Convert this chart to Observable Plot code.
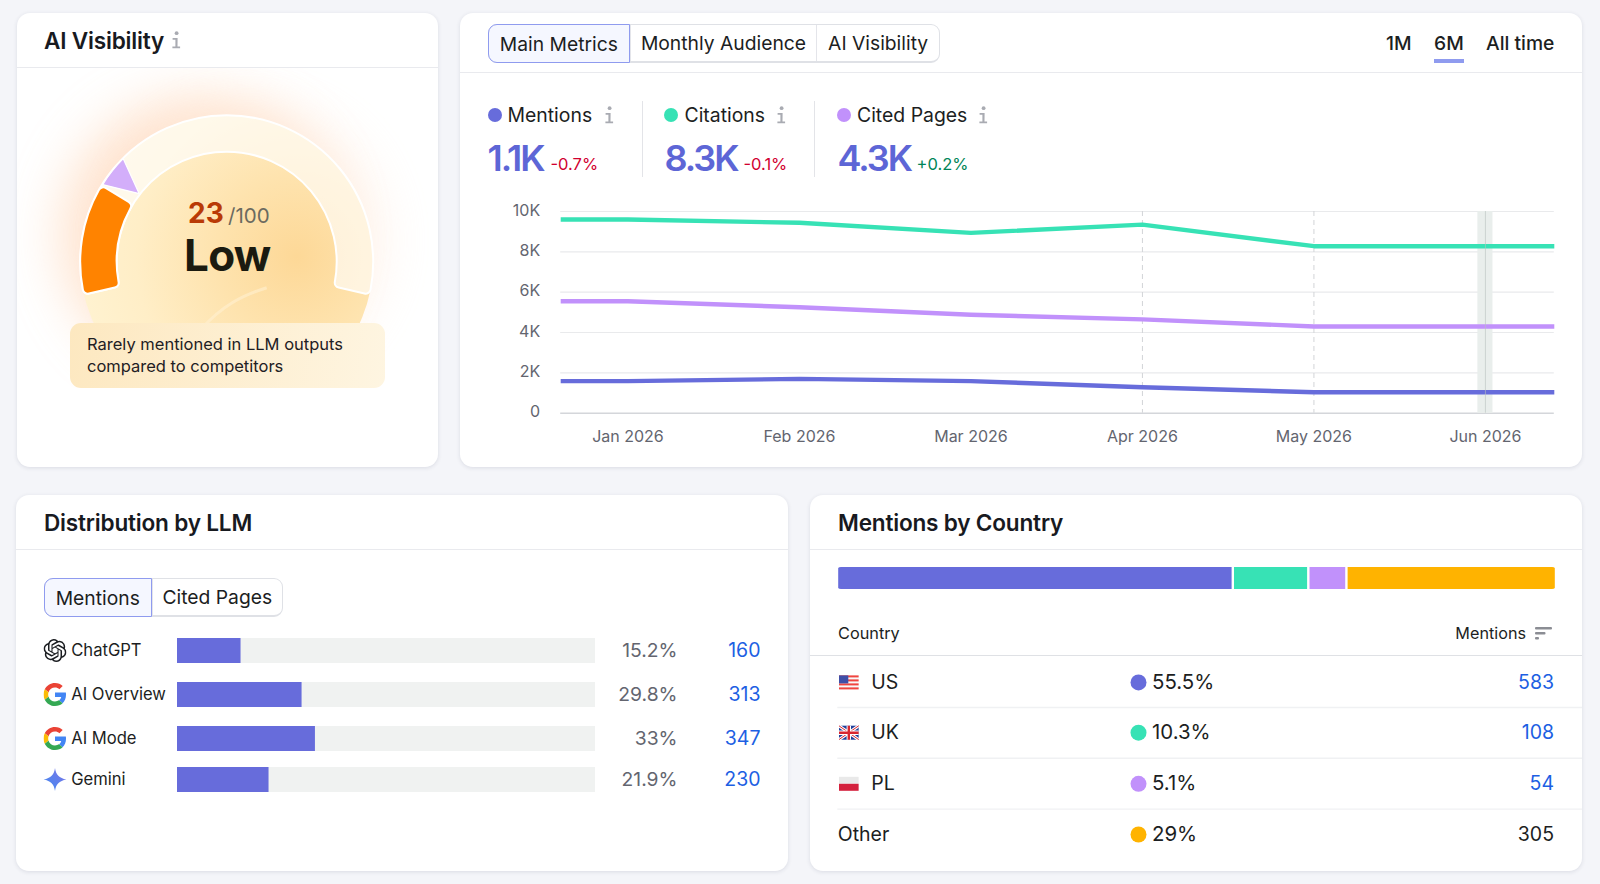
<!DOCTYPE html>
<html><head><meta charset="utf-8">
<script src="https://cdn.jsdelivr.net/npm/d3@7"></script>
<script src="https://cdn.jsdelivr.net/npm/@observablehq/plot@0.6"></script>
<style>
html,body{margin:0;padding:0;background:#f4f5f9;width:1600px;height:884px;overflow:hidden;font-family:Inter,sans-serif;color:#1c1e22}
.card{position:absolute;background:#fff;border-radius:13px;box-shadow:0 1px 4px rgba(30,40,70,.12)}
.hr{position:absolute;height:1px;background:#e9eaee}
.t{position:absolute;white-space:nowrap;line-height:1;transform:translateY(-50%)}
.r{transform:translate(-100%,-50%)}
.seg{position:absolute;display:flex;box-sizing:border-box;height:39px;border:1px solid #dfe1e6;border-bottom-width:2px;border-radius:9px;background:#fff;font-size:19.3px;overflow:visible}
.seg div{box-sizing:border-box;display:flex;align-items:center;justify-content:center;height:100%;border-left:1px solid #e4e5ea}
.seg div:first-child{border-left:0}
.seg div.on{background:#f5f7ff;border:1px solid #8f9bef;border-radius:9px 0 0 9px;margin:-1px 0 -2px -1px;height:39px}
.abs{position:absolute}
svg{display:block}
</style></head><body>
<script>
// ---------- data ----------
const months = ["Jan 2026","Feb 2026","Mar 2026","Apr 2026","May 2026","Jun 2026"];
const mentions = [1590,1700,1590,1290,1040,1040];
const citations = [9600,9440,8940,9350,8280,8280];
const citedPages = [5550,5250,4880,4650,4300,4300];
const yTicks = [0,2000,4000,6000,8000,10000];
const dashedMonths = [3,4];
const bandMonth = 5;
const metricNames = ["Mentions","Citations","Cited Pages"];
const metricValues = ["1.1K","8.3K","4.3K"];
const metricDeltas = ["-0.7%","-0.1%","+0.2%"];
const llmNames = ["ChatGPT","AI Overview","AI Mode","Gemini"];
const llmShares = [15.2,29.8,33,21.9];
const llmCounts = [160,313,347,230];
const countryNames = ["US","UK","PL","Other"];
const countryPct = [55.5,10.3,5.1,29];
const countryCounts = [583,108,54,305];
const barShares = [55.05,10.5,5.3,29.15];
const score = 23;
const scoreMax = 100;

const C = {blue:"#676cdb",green:"#37e2b5",purple:"#c191fb",orange:"#ffb300"};
const countryColors = [C.blue,C.green,C.purple,C.orange];
const seriesColors = [C.blue,C.green,C.purple];

// ---------- html helpers ----------
function el(cls,css,html,parent=document.body){const d=document.createElement("div");d.className=cls;d.style.cssText=css;if(html!=null)d.innerHTML=html;parent.appendChild(d);return d;}
function text(x,y,s,css="",right=false){return el("t"+(right?" r":""),`left:${x}px;top:${y}px;${css}`,s);}
const infoIcon=(x,y)=>el("abs",`left:${x-6}px;top:${y-10}px;width:12px;height:20px`,`<svg width="12" height="20" viewBox="0 0 12 20"><circle cx="6.6" cy="3.2" r="1.9" fill="#a9abb2"/><path d="M2.6 8h5l-.1 8.6h2.6v1.7H2.4v-1.7h3V9.7H2.6z" fill="#a9abb2"/></svg>`);
function segControl(x,y,items){
  const s=el("seg",`left:${x}px;top:${y}px;width:${items.reduce((a,b)=>a+b[1],0)}px`);
  items.forEach((it,i)=>{el(i==0?"on":"",`width:${it[1]}px`,it[0],s);});
  return s;
}
function mount(svg,x,y){svg.style.position="absolute";svg.style.left=x+"px";svg.style.top=y+"px";svg.style.background="transparent";document.body.appendChild(svg);}
const uri=s=>"data:image/svg+xml;utf8,"+encodeURIComponent(s);

// ---------- cards ----------
el("card","left:17px;top:13px;width:421px;height:454px");
el("card","left:460px;top:13px;width:1122px;height:454px");
el("card","left:16px;top:495px;width:772px;height:376px");
el("card","left:810px;top:495px;width:772px;height:376px");
el("hr","left:17px;top:67px;width:421px");
el("hr","left:460px;top:72px;width:1122px");
el("hr","left:16px;top:549px;width:772px");
el("hr","left:810px;top:549px;width:772px");

const h2="font-size:22.6px;font-weight:600;letter-spacing:-.2px;color:#181a1f";
text(44,41,"AI Visibility",h2);
infoIcon(176,40);
text(44,523,"Distribution by LLM",h2);
text(838,523,"Mentions by Country",h2);

// ---------- gauge ----------
const gauge = Plot.plot({
  width:421,height:320,margin:0,
  style:{overflow:"hidden",background:"transparent"},
  x:{domain:[0,scoreMax],range:[-103,103],axis:null},
  y:{domain:[0,1],range:[320,0],axis:null},
  marks:[
    Plot.ruleY([],{y:d=>d}),
    (index,scales)=>{
      const cx=209.7, cy=193.7, R=146.5, r=110;
      const ang=a=>a*Math.PI/180;
      const x=scales.x||(v=>-103+v*2.06);
      const g=d3.create("svg:g");
      const defs=g.append("defs");
      defs.append("filter").attr("id","gb").attr("x","-60%").attr("y","-60%").attr("width","220%").attr("height","220%")
        .append("feGaussianBlur").attr("stdDeviation",26);
      const rg=defs.append("radialGradient").attr("id","disc").attr("gradientUnits","userSpaceOnUse")
        .attr("cx",cx+70).attr("cy",cy-5).attr("r",230);
      [[0,"#fdd897"],[.35,"#fee3ae"],[.7,"#ffeec7"],[1,"#fff3d2"]].forEach(s=>rg.append("stop").attr("offset",s[0]).attr("stop-color",s[1]));
      defs.append("clipPath").attr("id","dc").append("rect").attr("x",0).attr("y",0).attr("width",421).attr("height",262);
      g.append("circle").attr("cx",cx-28).attr("cy",cy-26).attr("r",R-8).attr("fill","#ffd0ae").attr("opacity",.6).attr("filter","url(#gb)");
      g.append("circle").attr("cx",cx+22).attr("cy",cy-22).attr("r",R-14).attr("fill","#ffe3cf").attr("opacity",.4).attr("filter","url(#gb)");
      g.append("circle").attr("cx",cx).attr("cy",cy).attr("r",R).attr("fill","url(#disc)").attr("clip-path","url(#dc)");
      g.append("path").attr("d","M"+(cx-26)+" "+(cy+68)+"C"+(cx-5)+" "+(cy+44)+" "+(cx+15)+" "+(cy+34)+" "+(cx+40)+" "+(cy+26)).attr("fill","none").attr("stroke","#fff0d0").attr("stroke-width",3).attr("opacity",.6);
      const a=g.append("g").attr("transform",`translate(${cx},${cy})`);
      const arc=d3.arc().innerRadius(r).outerRadius(R).cornerRadius(5);
      a.append("path").attr("d",arc({startAngle:ang(x(0)),endAngle:ang(x(scoreMax))})).attr("fill","#fff").attr("fill-opacity",.62).attr("stroke","#fff").attr("stroke-width",2);
      a.append("path").attr("d",arc({startAngle:ang(x(0)),endAngle:ang(x(score)-3)})).attr("fill","#ff8300").attr("stroke","#fff").attr("stroke-width",2);
      const P=(rad,deg)=>[rad*Math.sin(ang(deg)),-rad*Math.cos(ang(deg))];
      const mid=x(score), a0=mid-2.5, a1=mid+10.5, tip=mid+3.5;
      const p0=P(R-.5,a0),p1=P(R-.5,a1),p2=P(r+1,tip);
      a.append("path").attr("d",`M${p0}A${R-.5} ${R-.5} 0 0 1 ${p1}L${p2}Z`).attr("fill","#d3aefa").attr("stroke","#fff").attr("stroke-width",1.2).attr("stroke-linejoin","round");
      return g.node();
    }
  ]
});
mount(gauge,17,68);
el("abs","left:70px;top:323px;width:315px;height:65px;border-radius:11px;background:linear-gradient(100deg,#fde8c0,#fef5e1)");
text(87,344,"Rarely mentioned in LLM outputs","font-size:16.5px;color:#1f2024");
text(87,366,"compared to competitors","font-size:16.5px;color:#1f2024");
text(188,213,String(score),"font-size:28px;font-weight:700;color:#b93a06");
text(228,216,"/"+scoreMax,"font-size:20.5px;color:#6b6a5f");
text(184,254.5,"Low","font-size:44px;font-weight:700;letter-spacing:-.7px;color:#1b1b10");

// ---------- top right header ----------
segControl(488,24,[["Main Metrics",142],["Monthly Audience",187],["AI Visibility",123]]);
text(1386,44,"1M","font-size:19.3px;font-weight:500");
text(1434,44,"6M","font-size:19.3px;font-weight:500");
text(1486,44,"All time","font-size:19.3px;font-weight:500");
el("abs","left:1434px;top:59px;width:30px;height:4px;background:#8f9bef");

// ---------- metric tiles ----------
const dotX=[494.5,671,844], labelX=[507.5,684.5,857], infoX=[609,781,983], valueX=[487.5,664.5,837.5], deltaX=[550.5,743.5,916.5];
metricNames.forEach((n,i)=>{
  el("abs",`left:${dotX[i]-7}px;top:108px;width:14px;height:14px;border-radius:50%;background:${seriesColors[i]}`);
  text(labelX[i],116,n,"font-size:19.4px");
  infoIcon(infoX[i],115);
  text(valueX[i],158,metricValues[i],"font-size:36px;font-weight:600;letter-spacing:-2px;color:#5d66d6");
  text(deltaX[i],164,metricDeltas[i],`font-size:16.5px;color:${metricDeltas[i][0]=="+"?"#008557":"#d1002f"}`);
});
el("abs","left:642px;top:101px;width:1px;height:76px;background:#e3e4e8");
el("abs","left:814px;top:101px;width:1px;height:76px;background:#e3e4e8");

// ---------- line chart ----------
const seriesLines=[["Mentions",mentions,C.blue],["Citations",citations,C.green],["Cited Pages",citedPages,C.purple]];
const edgeL=0.392, edgeR=0.4016;
const lineData=seriesLines.flatMap(([name,vals,color])=>[
  {name,color,x:-edgeL,v:vals[0]},
  ...vals.map((v,i)=>({name,color,x:i,v})),
  {name,color,x:months.length-1+edgeR,v:vals[vals.length-1]}
]);
const lineChart=Plot.plot({
  width:1122,height:260,marginLeft:100.2,marginRight:28.2,marginTop:11,marginBottom:47.3,
  style:{background:"transparent",fontFamily:"Inter,sans-serif"},
  x:{domain:[-edgeL,months.length-1+edgeR],axis:null},
  y:{domain:[0,10000],axis:null},
  color:{type:"identity"},
  marks:[
    Plot.ruleY(yTicks.slice(1),{stroke:"#e9eaec",strokeWidth:1.2}),
    Plot.ruleY([0],{stroke:"#d4d6da",strokeWidth:1.6}),
    Plot.rectY([bandMonth],{x1:d=>d-0.044,x2:d=>d+0.044,y1:0,y2:10000,fill:"#e9eeec"}),
    Plot.ruleX(dashedMonths,{stroke:"#d2d4d8",strokeDasharray:"5 4",strokeWidth:1}),
    Plot.line(lineData,{x:"x",y:"v",z:"name",stroke:"color",strokeWidth:4.4,curve:"linear",strokeLinecap:"butt",strokeLinejoin:"round"}),
    Plot.ruleX([bandMonth],{stroke:"#b9c2be",strokeOpacity:.6,strokeWidth:1}),
    Plot.axisY({ticks:yTicks,tickSize:0,tickPadding:20.5,dy:-1,label:null,fontSize:16,fontVariant:"normal",fill:"#63656f",tickFormat:d=>d?d/1000+"K":"0"}),
    Plot.axisX({ticks:d3.range(months.length),tickSize:0,tickPadding:17,label:null,fontSize:16,fontVariant:"normal",fill:"#63656f",tickFormat:i=>months[i]})
  ]
});
mount(lineChart,460,200);

// ---------- distribution by LLM ----------
segControl(44,578,[["Mentions",108],["Cited Pages",131]]);
const openai=`<svg xmlns="http://www.w3.org/2000/svg" viewBox="0 0 24 24"><path fill="#1c1e22" d="M22.2819 9.8211a5.9847 5.9847 0 0 0-.5157-4.9108 6.0462 6.0462 0 0 0-6.5098-2.9A6.0651 6.0651 0 0 0 4.9807 4.1818a5.9847 5.9847 0 0 0-3.9977 2.9 6.0462 6.0462 0 0 0 .7427 7.0966 5.98 5.98 0 0 0 .511 4.9107 6.051 6.051 0 0 0 6.5146 2.9001A5.9847 5.9847 0 0 0 13.2599 24a6.0557 6.0557 0 0 0 5.7718-4.2058 5.9894 5.9894 0 0 0 3.9977-2.9001 6.0557 6.0557 0 0 0-.7475-7.0729zm-9.022 12.6081a4.4755 4.4755 0 0 1-2.8764-1.0408l.1419-.0804 4.7783-2.7582a.7948.7948 0 0 0 .3927-.6813v-6.7369l2.02 1.1686a.071.071 0 0 1 .038.052v5.5826a4.504 4.504 0 0 1-4.4945 4.4944zm-9.6607-4.1254a4.4708 4.4708 0 0 1-.5346-3.0137l.142.0852 4.783 2.7582a.7712.7712 0 0 0 .7806 0l5.8428-3.3685v2.3324a.0804.0804 0 0 1-.0332.0615L9.74 19.9502a4.4992 4.4992 0 0 1-6.1408-1.6464zM2.3408 7.8956a4.485 4.485 0 0 1 2.3655-1.9728V11.6a.7664.7664 0 0 0 .3879.6765l5.8144 3.3543-2.0201 1.1685a.0757.0757 0 0 1-.071 0l-4.8303-2.7865A4.504 4.504 0 0 1 2.3408 7.872zm16.5963 3.8558L13.1038 8.364 15.1192 7.2a.0757.0757 0 0 1 .071 0l4.8303 2.7913a4.4944 4.4944 0 0 1-.6765 8.1042v-5.6772a.79.79 0 0 0-.407-.667zm2.0107-3.0231l-.142-.0852-4.7735-2.7818a.7759.7759 0 0 0-.7854 0L9.409 9.2297V6.8974a.0662.0662 0 0 1 .0284-.0615l4.8303-2.7866a4.4992 4.4992 0 0 1 6.6802 4.66zM8.3065 12.863l-2.02-1.1638a.0804.0804 0 0 1-.038-.0567V6.0742a4.4992 4.4992 0 0 1 7.3757-3.4537l-.142.0805L8.704 5.459a.7948.7948 0 0 0-.3927.6813zm1.0976-2.3654l2.602-1.4998 2.6069 1.4998v2.9994l-2.5974 1.4997-2.6067-1.4997Z"/></svg>`;
const google=`<svg xmlns="http://www.w3.org/2000/svg" viewBox="0 0 48 48"><path fill="#EA4335" d="M24 9.5c3.54 0 6.71 1.22 9.21 3.6l6.85-6.85C35.9 2.38 30.47 0 24 0 14.62 0 6.51 5.38 2.56 13.22l7.98 6.19C12.43 13.72 17.74 9.5 24 9.5z"/><path fill="#4285F4" d="M46.98 24.55c0-1.57-.15-3.09-.38-4.55H24v9.02h12.94c-.58 2.96-2.26 5.48-4.78 7.18l7.73 6c4.51-4.18 7.09-10.36 7.09-17.65z"/><path fill="#FBBC05" d="M10.53 28.59c-.48-1.45-.76-2.99-.76-4.59s.27-3.14.76-4.59l-7.98-6.19C.92 16.46 0 20.12 0 24c0 3.88.92 7.54 2.56 10.78l7.97-6.19z"/><path fill="#34A853" d="M24 48c6.48 0 11.93-2.13 15.89-5.81l-7.73-6c-2.15 1.45-4.92 2.3-8.16 2.3-6.26 0-11.57-4.22-13.47-9.91l-7.98 6.19C6.51 42.62 14.62 48 24 48z"/></svg>`;
const gemini=`<svg xmlns="http://www.w3.org/2000/svg" viewBox="0 0 24 24"><defs><linearGradient id="g" x1="0" y1="1" x2="1" y2="0"><stop offset="0" stop-color="#3f8cf2"/><stop offset="1" stop-color="#7f73e6"/></linearGradient></defs><path fill="url(#g)" d="M12 0c.9 7 4.4 10.6 12 12-7.6 1.4-11.1 5-12 12-.9-7-4.4-10.6-12-12C7.6 10.6 11.1 7 12 0z"/></svg>`;
const llmIcons=[openai,google,google,gemini];
const llmRows=llmNames.map((name,i)=>({i,name,share:llmShares[i],count:llmCounts[i],icon:uri(llmIcons[i])}));
// Rows are not evenly spaced in the reference, so row index maps to pixels through a piecewise transform.
const llmRowY=d3.scaleLinear().domain([0,1,2,3]).range([25,69,113,154]);
const llmChart=Plot.plot({
  width:772,height:180,margin:0,
  style:{background:"transparent",fontFamily:"Inter,sans-serif"},
  x:{domain:[0,100],range:[161,579],axis:null},
  y:{transform:llmRowY,domain:[0,180],range:[0,180],axis:null},
  marks:[
    Plot.ruleY(llmRows,{y:"i",x1:0,x2:100,stroke:"#f0f2f1",strokeWidth:25}),
    Plot.ruleY(llmRows,{y:"i",x1:0,x2:"share",stroke:C.blue,strokeWidth:25}),
    Plot.image(llmRows,{x:()=>0,y:"i",dx:-122.5,src:"icon",width:23,height:23}),
    Plot.text(llmRows,{x:()=>0,y:"i",dx:-106.3,text:"name",textAnchor:"start",fontSize:16.6,fill:"#1c1e22"}),
    Plot.text(llmRows,{x:()=>100,y:"i",dx:82,text:d=>d.share+"%",textAnchor:"end",fontSize:19.3,fill:"#63656f"}),
    Plot.text(llmRows,{x:()=>100,y:"i",dx:165,text:d=>String(d.count),textAnchor:"end",fontSize:19.5,fill:"#1d5fe3"})
  ]
});
mount(llmChart,16,625);

// ---------- mentions by country: stacked bar ----------
const stackRows=countryNames.map((name,i)=>({name,share:barShares[i],color:countryColors[i]}));
const stackChart=Plot.plot({
  width:719,height:22,margin:0,
  style:{background:"transparent"},
  x:{domain:[0,100],axis:null},
  color:{type:"identity"},
  marks:[Plot.barX(stackRows,{x:"share",fill:"color",insetRight:1.2,insetLeft:1.2})]
});
const stackWrap=el("abs","left:836.5px;top:567px;width:719px;height:22px;border-radius:4px;overflow:hidden");
stackChart.style.display="block";stackWrap.appendChild(stackChart);

// ---------- table ----------
text(838,633,"Country","font-size:16.3px");
text(1526,633,"Mentions","font-size:16.2px",true);
el("abs","left:1535px;top:626px;width:18px;height:15px",`<svg width="18" height="15"><rect x="0" y="1" width="17" height="2.6" rx="1" fill="#8b8d94"/><rect x="0" y="6" width="10.5" height="2.6" rx="1" fill="#8b8d94"/><rect x="0" y="11" width="4" height="2.6" rx="1" fill="#8b8d94"/></svg>`);
el("hr","left:810px;top:655px;width:772px;background:#dfe1e5");
const flagUS=`<svg xmlns="http://www.w3.org/2000/svg" viewBox="0 0 20 14"><rect width="20" height="14" fill="#f9f9f9"/><g fill="#f0453f"><rect y="0" width="20" height="2"/><rect y="4" width="20" height="2"/><rect y="8" width="20" height="2"/><rect y="12" width="20" height="2"/></g><rect width="9.5" height="8" fill="#3f4fa8"/></svg>`;
const flagUK=`<svg xmlns="http://www.w3.org/2000/svg" viewBox="0 0 20 14"><rect width="20" height="14" fill="#1f3f9a"/><path d="M0 0L20 14M20 0L0 14" stroke="#fff" stroke-width="3"/><path d="M0 0L20 14M20 0L0 14" stroke="#d8262f" stroke-width="1"/><path d="M10 0V14M0 7H20" stroke="#fff" stroke-width="4.4"/><path d="M10 0V14M0 7H20" stroke="#d8262f" stroke-width="2.4"/></svg>`;
const flagPL=`<svg xmlns="http://www.w3.org/2000/svg" viewBox="0 0 20 14"><rect width="20" height="7" fill="#e9e9e9"/><rect y="7" width="20" height="7" fill="#d4213d"/></svg>`;
const flags=[flagUS,flagUK,flagPL];
const tableRows=countryNames.map((name,i)=>({i,name,pct:countryPct[i],count:countryCounts[i],color:countryColors[i],flag:flags[i]?uri(flags[i]):null}));
const tableRowY=d3.scaleLinear().domain([0,1,2,3]).range([21.9,72.2,123.3,174]);
const tableColX=d3.scaleLinear().domain([0,1,2]).range([27.3,328,743.5]);
const tableChart=Plot.plot({
  width:772,height:210,margin:0,
  style:{background:"transparent",fontFamily:"Inter,sans-serif"},
  x:{transform:tableColX,domain:[0,772],range:[0,772],axis:null},
  y:{transform:tableRowY,domain:[0,210],range:[0,210],axis:null},
  color:{type:"identity"},
  marks:[
    Plot.ruleY([0.5,1.5,2.5],{x1:null,stroke:"#f0f1f3",strokeWidth:1.4}),
    Plot.image(tableRows.filter(d=>d.flag),{x:()=>0,y:"i",dx:11,src:"flag",width:20,height:20,preserveAspectRatio:"xMidYMid meet"}),
    Plot.text(tableRows.filter(d=>d.flag),{x:()=>0,y:"i",dx:33.4,text:"name",textAnchor:"start",fontSize:19.5,fill:"#1c1e22"}),
    Plot.text(tableRows.filter(d=>!d.flag),{x:()=>0,y:"i",text:"name",textAnchor:"start",fontSize:19.5,fill:"#1c1e22"}),
    Plot.dot(tableRows,{x:()=>1,y:"i",r:8,fill:"color"}),
    Plot.text(tableRows,{x:()=>1,y:"i",dx:13.5,text:d=>d.pct+"%",textAnchor:"start",fontSize:20.4,fill:"#1c1e22"}),
    Plot.text(tableRows.filter(d=>d.flag),{x:()=>2,y:"i",text:d=>String(d.count),textAnchor:"end",fontSize:19.5,fill:"#1d5fe3"}),
    Plot.text(tableRows.filter(d=>!d.flag),{x:()=>2,y:"i",text:d=>String(d.count),textAnchor:"end",fontSize:19.5,fill:"#1c1e22"})
  ]
});
mount(tableChart,810,660);
</script>
</body></html>
